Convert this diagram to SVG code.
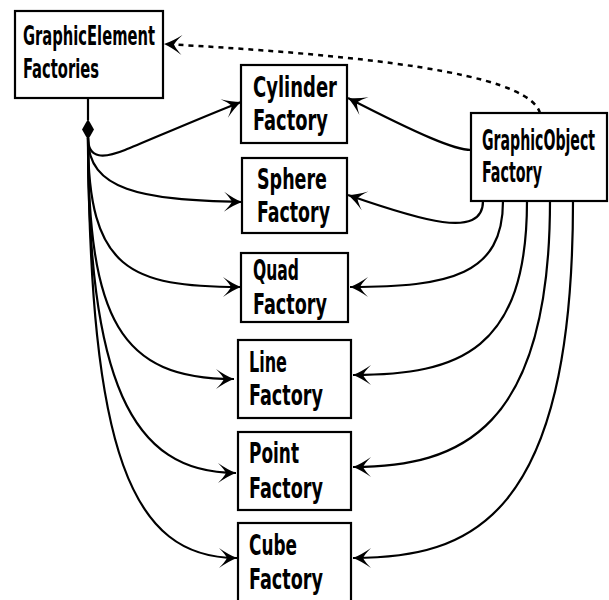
<svg xmlns="http://www.w3.org/2000/svg" width="609" height="600" viewBox="0 0 609 600">
  <style>
    .box { fill: #fff; stroke: #000; stroke-width: 2.2; }
    .lbl { font-family: "Liberation Sans Narrow", "DejaVu Sans Condensed", "Liberation Sans", sans-serif; font-stretch: condensed; font-weight: bold; font-size: 29px; fill: #000; }
    .lbl.sm { font-size: 26px; }
    .edge { fill: none; stroke: #000; stroke-width: 2.2; }
    .dash { stroke-dasharray: 5 5; stroke-width: 2.5; }
  </style>
  <defs>
    <marker id="arrow" markerUnits="userSpaceOnUse" markerWidth="24" markerHeight="24" viewBox="-20 -12 22 24" refX="0" refY="0" orient="auto" overflow="visible">
      <path d="M0,0 Q-8,-3 -18,-10 Q-12,-4 -10,0 Q-12,4 -18,10 Q-8,3 0,0 Z" fill="#000"/>
    </marker>
  </defs>

  <!-- connectors -->
  <g id="connectors">
    <!-- composition stem and diamond -->
    <line class="edge" x1="88" y1="98" x2="88" y2="120"/>
    <polygon points="88,119 94,129.5 88,140 82,129.5" fill="#000"/>

    <!-- aggregate to each factory -->
    <path class="edge" marker-end="url(#arrow)" d="M88,138 C88,160 105,158 125,150 S200,118 241,102"/>
    <path class="edge" marker-end="url(#arrow)" d="M88,138 C88,190 140,200 242,202"/>
    <path class="edge" marker-end="url(#arrow)" d="M88,138 C88,270 130,287 241,287"/>
    <path class="edge" marker-end="url(#arrow)" d="M88,138 C88,320 120,379 234,379"/>
    <path class="edge" marker-end="url(#arrow)" d="M88,138 C88,380 130,473 236,473"/>
    <path class="edge" marker-end="url(#arrow)" d="M88,138 C90,450 130,558 237,558"/>

    <!-- object factory delegating to each factory -->
    <path class="edge" marker-end="url(#arrow)" d="M471,150 C455,150 420,135 348,98"/>
    <path class="edge" marker-end="url(#arrow)" d="M483,201 C483,240 420,220 348,195"/>
    <path class="edge" marker-end="url(#arrow)" d="M503,201 C503,275 450,287 350,287"/>
    <path class="edge" marker-end="url(#arrow)" d="M527,201 C527,350 460,375 353,375"/>
    <path class="edge" marker-end="url(#arrow)" d="M550,201 C550,430 460,467 353,467"/>
    <path class="edge" marker-end="url(#arrow)" d="M573,201 C573,520 470,558 353,558"/>

    <!-- dependency back to the element factories -->
    <path class="edge dash" marker-end="url(#arrow)" d="M540,113 C530,80 420,58 164,44"/>
  </g>

  <g id="graphic-element-factories">
    <rect class="box" x="15" y="11" width="148" height="87"/>
    <text class="lbl sm" x="23" y="45" textLength="132" lengthAdjust="spacingAndGlyphs">GraphicElement</text>
    <text class="lbl sm" x="23" y="78" textLength="76" lengthAdjust="spacingAndGlyphs">Factories</text>
  </g>

  <g id="cylinder-factory">
    <rect class="box" x="241" y="65" width="106" height="78"/>
    <text class="lbl" x="253" y="97" textLength="84" lengthAdjust="spacingAndGlyphs">Cylinder</text>
    <text class="lbl" x="253" y="130" textLength="75" lengthAdjust="spacingAndGlyphs">Factory</text>
  </g>

  <g id="sphere-factory">
    <rect class="box" x="242" y="158" width="105" height="75"/>
    <text class="lbl" x="257" y="189" textLength="70" lengthAdjust="spacingAndGlyphs">Sphere</text>
    <text class="lbl" x="257" y="222" textLength="73" lengthAdjust="spacingAndGlyphs">Factory</text>
  </g>

  <g id="graphic-object-factory">
    <rect class="box" x="471" y="113" width="136" height="88"/>
    <text class="lbl" x="482" y="150" textLength="113" lengthAdjust="spacingAndGlyphs">GraphicObject</text>
    <text class="lbl" x="482" y="182" textLength="60" lengthAdjust="spacingAndGlyphs">Factory</text>
  </g>

  <g id="quad-factory">
    <rect class="box" x="241" y="253" width="107" height="69"/>
    <text class="lbl" x="253" y="280" textLength="46" lengthAdjust="spacingAndGlyphs">Quad</text>
    <text class="lbl" x="253" y="314" textLength="74" lengthAdjust="spacingAndGlyphs">Factory</text>
  </g>

  <g id="line-factory">
    <rect class="box" x="238" y="340" width="113" height="78"/>
    <text class="lbl" x="249" y="372" textLength="38" lengthAdjust="spacingAndGlyphs">Line</text>
    <text class="lbl" x="249" y="405" textLength="74" lengthAdjust="spacingAndGlyphs">Factory</text>
  </g>

  <g id="point-factory">
    <rect class="box" x="238" y="432" width="113" height="78"/>
    <text class="lbl" x="249" y="463" textLength="50" lengthAdjust="spacingAndGlyphs">Point</text>
    <text class="lbl" x="249" y="498" textLength="74" lengthAdjust="spacingAndGlyphs">Factory</text>
  </g>

  <g id="cube-factory">
    <rect class="box" x="238" y="523" width="113" height="84"/>
    <text class="lbl" x="249" y="555" textLength="48" lengthAdjust="spacingAndGlyphs">Cube</text>
    <text class="lbl" x="249" y="589" textLength="74" lengthAdjust="spacingAndGlyphs">Factory</text>
  </g>
</svg>
